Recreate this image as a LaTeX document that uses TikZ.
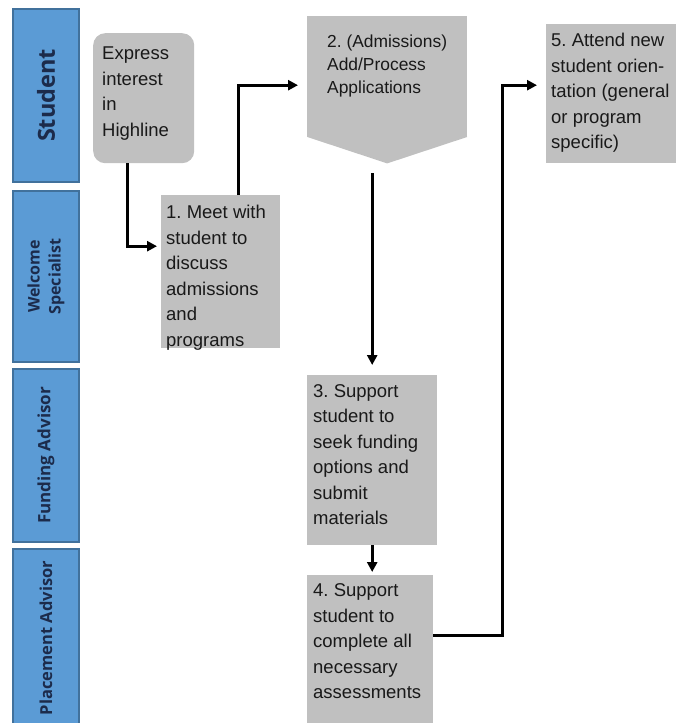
\documentclass[tikz,border=0pt]{standalone}
\usepackage{fontspec}
\setmainfont{Liberation Sans}
\newfontfamily\lanefont{Open Sans}
\usetikzlibrary{arrows.meta}
\definecolor{lb}{HTML}{5B9BD5}
\definecolor{ld}{HTML}{41719C}
\definecolor{lt}{HTML}{1C2B4B}
\definecolor{bg}{HTML}{C0C0C0}
\frenchspacing

\begin{document}
\begin{tikzpicture}[x=1pt,y=-1pt,
  lane/.style={rotate=90, fill=lb, draw=ld, line width=2pt, minimum height=66pt, inner sep=0pt, text=lt, align=center},
  stepbox/.style={fill=bg, inner sep=0pt, anchor=north west},
  steptext/.style={anchor=north west, inner sep=0pt, align=left, font=\fontsize{18.5}{25.5}\selectfont, text=black!90},
  flow/.style={line width=3.2pt, -{Triangle[length=10pt,width=10pt]}}]
  \useasboundingbox (0,0) rectangle (675,723);
  \foreach \yc/\len/\fs/\txt [count=\i] in {95.5/173/23.5/Student, 276.5/171/16/{Welcome\\Specialist}, 455.5/173/17/{Funding Advisor}, 638/178/16.5/{Placement Advisor}} {
    \node[lane, minimum width=\len pt, font=\lanefont\bfseries\fontsize{\fs}{21}\selectfont] (lane\i) at (46,\yc) {\txt};}
  \node[stepbox, rounded corners=12pt, minimum width=101pt, minimum height=130pt] (express) at (93,33) {};
  \node[steptext] (expresstxt) at ([shift={(9pt,-14pt)}]express.north west) {Express\\interest\\in\\Highline};
  \node[stepbox, minimum width=119pt, minimum height=153pt] (meet) at (161,195) {};
  \node[steptext] (meettxt) at ([shift={(5pt,-10pt)}]meet.north west) {1. Meet with\\student to\\discuss\\admissions\\and\\programs};
  \node[stepbox, minimum width=160pt, minimum height=121pt] (admit) at (307,16) {};
  \fill[bg] ([yshift=0.5pt]admit.south west) -- ([yshift=0.5pt]admit.south east) -- ([yshift=-26pt]admit.south) coordinate (admittip) -- cycle;
  \node[steptext, font=\fontsize{17.4}{23}\selectfont] (admittxt) at ([shift={(20pt,-19pt)}]admit.north west) {2. (Admissions)\\Add/Process\\Applications};
  \node[stepbox, minimum width=130pt, minimum height=170pt] (fund) at (307,375) {};
  \node[steptext] (fundtxt) at ([shift={(6pt,-9pt)}]fund.north west) {3. Support\\student to\\seek funding\\options and\\submit\\materials};
  \node[stepbox, minimum width=126pt, minimum height=152pt] (place) at (307,575) {};
  \node[steptext] (placetxt) at ([shift={(6pt,-8.5pt)}]place.north west) {4. Support\\student to\\complete all\\necessary\\assessments};
  \node[stepbox, minimum width=134pt, minimum height=139pt] (orient) at (546,24) {};
  \node[steptext] (orienttxt) at ([shift={(5pt,-9pt)}]orient.north west) {5. Attend new\\student orien-\\tation (general\\or program\\specific)};
  % hand-offs between the lanes
  \draw[flow, shorten >=4pt] ([xshift=-16.5pt]express.south) |- ([yshift=25.5pt]meet.west);
  \draw[flow, shorten >=9pt] ([xshift=17.5pt]meet.north) |- ([yshift=-8.5pt]admit.west);
  \draw[flow, shorten <=10pt, shorten >=10pt] (fund.north |- admittip) -- (fund.north);
  \draw[flow, shorten >=3pt] (fund.south) -- (fund.south |- place.north);
  \draw[flow, shorten >=9pt] ([yshift=16pt]place.east) -- ++(69,0) |- ([yshift=8.5pt]orient.west);
\end{tikzpicture}
\end{document}
